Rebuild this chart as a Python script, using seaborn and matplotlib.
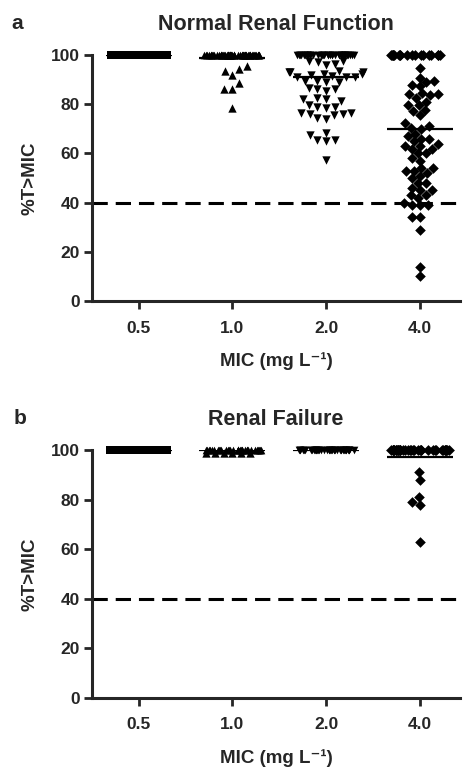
import matplotlib
matplotlib.use('agg')
import matplotlib.pyplot as plt
import seaborn as sns
import pandas as pd
import numpy as np

# MIC categories and the marker used for each column
mic_labels = ['0.5', '1.0', '2.0', '4.0']
mic_markers = ['s', '^', 'v', 'D']
swarm_sizes = [6, 6, 6, 5.4]

# %T>MIC, normal renal function (panel a)
normal_05 = [100] * 40
normal_10 = [100] * 60 + [95.6, 94.3, 93.5, 91.9, 88.5, 86.1, 86.1, 78.6]
normal_20 = [100] * 36 + [97.5, 97.5, 97, 96.5, 96, 93.5, 93, 93, 92.5, 92.5,
                          92, 93, 91.5, 91, 91, 91, 89.5, 89.5, 89, 89,
                          86.5, 86, 86, 85.5, 82.5, 82, 82, 81.5, 79.5, 79,
                          79, 78.5, 76.5, 76.5, 76, 76, 75.5, 74.5, 74, 68.5,
                          67.5, 65.5, 65.5, 65, 57.3]
normal_40 = [100] * 18 + [94.6, 90.6, 89.5, 89, 88, 87.5, 84.5, 84, 84, 83.7,
                          82.5, 81, 79.7, 79.7, 77.8, 77.2, 75.7, 72.4, 71, 70.5,
                          70, 68, 67, 66, 66, 65, 64, 63, 63, 62,
                          62, 60, 60, 58, 57, 54, 54, 53, 53, 52,
                          51, 50, 48, 48, 46, 45, 45, 43, 43, 42,
                          40, 39, 39, 39, 34, 34, 29, 14, 10]

# %T>MIC, renal failure (panel b)
failure_05 = [100] * 40
failure_10 = [100] * 34 + [99] * 6
failure_20 = [100] * 40
failure_40 = [100] * 38 + [91, 88, 81, 79, 78, 63]

target = 40

np.random.seed(7)
sns.set_style('ticks')
plt.rcParams['font.family'] = ['Liberation Sans', 'DejaVu Sans']
plt.rcParams['font.weight'] = 'bold'


def draw_panel(ax, groups, title):
    ax.set_xlim(-0.5, 3.43)
    ax.set_ylim(0, 100)
    frames = []
    for lab, mk, sz, vals in zip(mic_labels, mic_markers, swarm_sizes, groups):
        sub = pd.DataFrame({'mic': [lab] * len(vals), 'tmic': vals})
        frames.append(sub)
        top = sub[sub.tmic >= 100]
        rest = sub[sub.tmic < 100]
        # the pile of 100% values forms a flat band
        sns.stripplot(data=top, x='mic', y='tmic', order=mic_labels,
                      jitter=0.31, marker=mk, color='black', size=5.5,
                      linewidth=0, clip_on=False, ax=ax)
        if len(rest):
            sns.swarmplot(data=rest, x='mic', y='tmic', order=mic_labels,
                          marker=mk, color='black', size=sz, linewidth=0,
                          warn_thresh=1, clip_on=False, ax=ax)
    df = pd.concat(frames)
    sns.pointplot(data=df, x='mic', y='tmic', order=mic_labels,
                  estimator='mean', errorbar=None, markers='_',
                  linestyles='none', color='black', markersize=47,
                  markeredgewidth=1.6, ax=ax)
    ax.axhline(target, color='black', ls=(0, (5, 2.6)), lw=2.2, zorder=0)
    ax.set_xlim(-0.5, 3.43)
    ax.set_ylim(0, 100)
    ax.set_yticks([0, 20, 40, 60, 80, 100])
    sns.despine(ax=ax)
    for s in ['left', 'bottom']:
        ax.spines[s].set_linewidth(2.2)
    ax.tick_params(width=2, length=6, labelsize=12.5)
    ax.tick_params(axis='x', pad=8)
    ax.tick_params(axis='y', pad=3)
    for t in ax.get_xticklabels() + ax.get_yticklabels():
        t.set_fontweight('bold')
    ax.set_title(title, fontsize=15.5, fontweight='bold', pad=18)
    ax.set_xlabel('MIC (mg L\u207b\u00b9)', fontsize=13.5, fontweight='bold',
                  labelpad=12)
    ax.set_ylabel('%T>MIC', fontsize=13.5, fontweight='bold', labelpad=9)


fig = plt.figure(figsize=(4.65, 7.7), dpi=100)
ax_a = fig.add_axes([0.198, 0.609, 0.791, 0.3195])
ax_b = fig.add_axes([0.198, 0.0935, 0.791, 0.322])

draw_panel(ax_a, [normal_05, normal_10, normal_20, normal_40],
           'Normal Renal Function')
draw_panel(ax_b, [failure_05, failure_10, failure_20, failure_40],
           'Renal Failure')

fig.text(0.037, 0.97, 'a', fontsize=15, fontweight='bold',
         ha='center', va='center')
fig.text(0.043, 0.457, 'b', fontsize=15, fontweight='bold',
         ha='center', va='center')

fig.savefig('out.png', dpi=100)
